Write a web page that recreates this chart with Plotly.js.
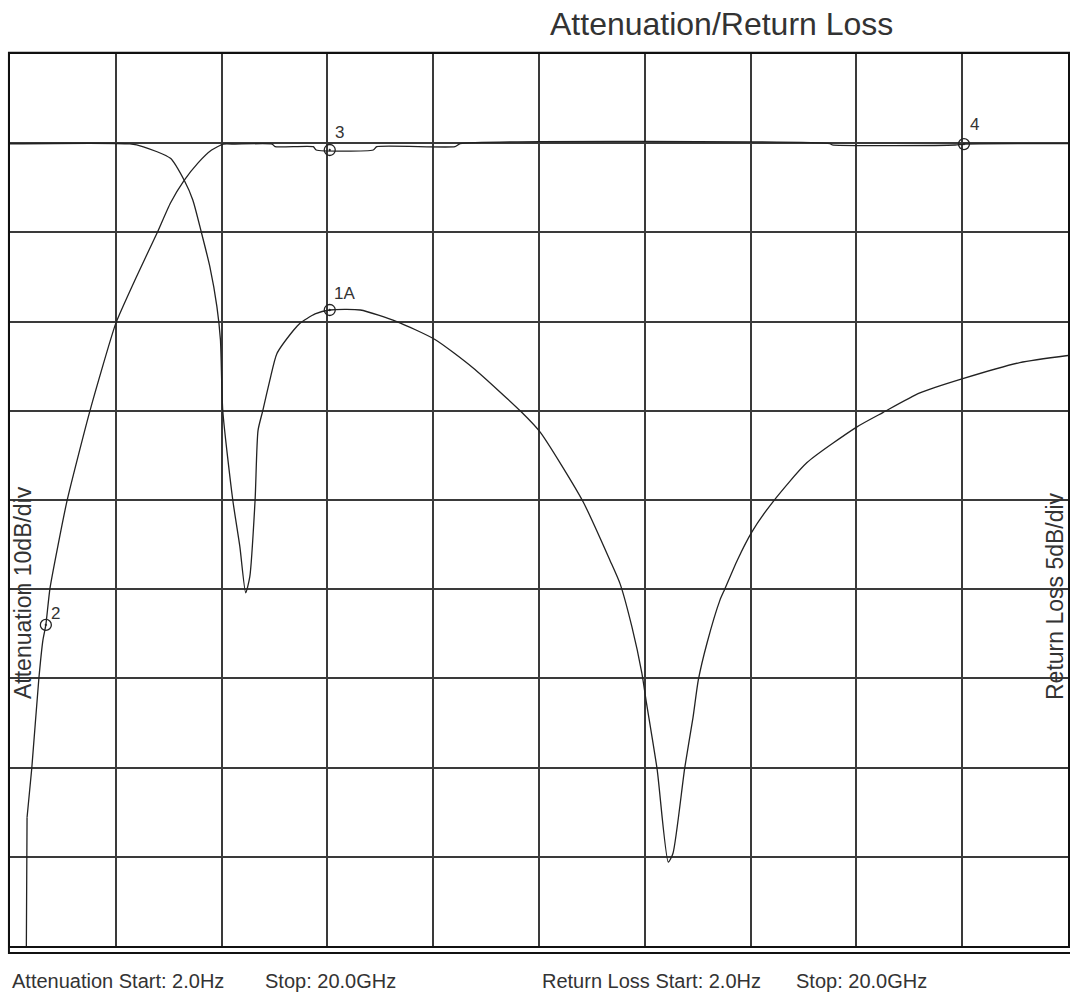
<!DOCTYPE html>
<html>
<head>
<meta charset="utf-8">
<script src="https://cdn.plot.ly/plotly-3.0.1.min.js"></script>
<style>html,body{margin:0;padding:0;background:#fff;}#chart{width:1070px;height:997px;}</style>
</head>
<body>
<div id="chart"></div>
<script>
// Frequency axis (GHz), 10 divisions of 1.8 GHz
const freqStart = 2.0;
const freqStop = 20.0;

// Attenuation trace (10 dB/div)
const attFreq = [2.0, 2.27, 2.29, 2.37, 2.49, 2.56, 2.61, 2.68, 2.97, 3.36, 3.80, 4.15, 4.50, 4.73, 4.96, 5.20, 5.43, 5.63, 5.83, 6.46, 6.51, 7.16, 7.21, 8.18, 8.24, 9.57, 9.66, 15.95, 15.99, 18.08, 18.23, 20.0];
const attDb   = [-100, -100, -75.6, -70.1, -60.1, -55.7, -54.0, -49.9, -40.1, -30.0, -20.2, -15.0, -10.1, -6.7, -4.2, -2.2, -0.76, -0.1, -0.1, -0.1, -0.39, -0.39, -0.76, -0.76, -0.39, -0.39, -0.05, -0.05, -0.2, -0.2, -0.1, -0.05];

// Return loss trace (5 dB/div)
const rlFreq = [2.0, 4.04, 4.27, 4.73, 4.97, 5.11, 5.26, 5.40, 5.52, 5.58, 5.62, 5.79, 5.91, 6.01, 6.08, 6.17, 6.22, 6.30, 6.42, 6.54, 6.82, 6.93, 7.19, 7.44, 7.96, 8.58, 9.23, 9.88, 10.71, 11.02, 11.75, 12.21, 12.38, 12.58, 12.75, 12.82, 13.01, 13.20, 13.28, 13.48, 13.62, 13.71, 13.86, 14.08, 14.16, 14.37, 14.62, 14.98, 15.56, 16.41, 16.85, 17.48, 18.21, 19.18, 20.0];
const rlDb   = [-0.03, -0.04, -0.20, -0.85, -2.12, -3.18, -5.05, -6.92, -9.16, -11.0, -15.0, -20.0, -22.6, -25.2, -24.3, -20.0, -16.1, -15.0, -13.3, -11.8, -10.5, -10.1, -9.57, -9.35, -9.35, -10.0, -11.0, -12.6, -15.1, -16.2, -20.1, -23.4, -24.7, -27.1, -29.7, -31.2, -35.1, -40.3, -39.8, -35.0, -32.2, -30.1, -28.0, -25.6, -25.0, -23.4, -21.8, -20.1, -17.9, -15.9, -15.1, -14.0, -13.2, -12.3, -11.9];

// Markers
const markerLabels = ["2", "1A", "3", "4"];
const markerFreq   = [2.61, 7.44, 7.44, 18.23];
const markerDb     = [-54.0, -9.35, -0.76, -0.1];
const markerTrace  = ["att", "rl", "att", "att"];

// Text
const titleText = "Attenuation/Return Loss";
const leftAxisText = "Attenuation 10dB/div";
const rightAxisText = "Return Loss 5dB/div";
const footerTexts = ["Attenuation Start: 2.0Hz", "Stop: 20.0GHz", "Return Loss Start: 2.0Hz", "Stop: 20.0GHz"];

const ink = '#222';
const font = 'Liberation Sans, Arial, sans-serif';

// The attenuation sweep enters the screen with a vertical jump (first 3 samples, straight),
// the rest of the sweep is drawn smoothed.
const jumpEnd = 3;
const traces = [
  {x: attFreq.slice(0, jumpEnd), y: attDb.slice(0, jumpEnd), type: 'scatter', mode: 'lines', yaxis: 'y',
   line: {color: ink, width: 1.3}, hoverinfo: 'skip'},
  {x: attFreq.slice(jumpEnd - 1), y: attDb.slice(jumpEnd - 1), type: 'scatter', mode: 'lines', yaxis: 'y',
   line: {color: ink, width: 1.3, shape: 'spline', smoothing: 0.5}, hoverinfo: 'skip'},
  {x: rlFreq, y: rlDb, type: 'scatter', mode: 'lines', yaxis: 'y2',
   line: {color: ink, width: 1.3, shape: 'spline', smoothing: 0.6}, hoverinfo: 'skip'}
];
['att', 'rl'].forEach(t => {
  const xs = [], ys = [];
  markerTrace.forEach((m, i) => { if (m === t) { xs.push(markerFreq[i]); ys.push(markerDb[i]); } });
  traces.push({x: xs, y: ys, type: 'scatter', mode: 'markers', yaxis: t === 'att' ? 'y' : 'y2',
    marker: {symbol: 'circle-open-dot', size: 11, color: ink, line: {color: ink, width: 1.3}},
    cliponaxis: false, hoverinfo: 'skip'});
});

const plotW = 1058, plotH = 892, mL = 10, mB = 51;
const px = v => (v - mL) / plotW;        // page x -> paper
const py = v => (997 - mB - v) / plotH;  // page y -> paper

const annotations = [
  {text: titleText, xref: 'paper', yref: 'paper', x: px(548), y: py(24), xanchor: 'left', yanchor: 'middle',
   showarrow: false, font: {family: font, size: 32, color: '#333'}},
  {text: leftAxisText, xref: 'paper', yref: 'paper', x: px(23), y: py(593), xanchor: 'center', yanchor: 'middle',
   textangle: -90, showarrow: false, font: {family: font, size: 23, color: '#333'}},
  {text: rightAxisText, xref: 'paper', yref: 'paper', x: px(1055), y: py(596), xanchor: 'center', yanchor: 'middle',
   textangle: -90, showarrow: false, font: {family: font, size: 23, color: '#333'}}
];
const footerX = [10, 263, 540, 794];
footerTexts.forEach((t, i) => annotations.push({
  text: t, xref: 'paper', yref: 'paper', x: px(footerX[i]), y: py(981), xanchor: 'left', yanchor: 'middle',
  showarrow: false, font: {family: font, size: 20, color: '#333'}
}));
const labelShift = {"2": [3, 11], "1A": [2, 17], "3": [3, 17], "4": [4, 20]};
markerLabels.forEach((t, i) => annotations.push({
  text: t, x: markerFreq[i], y: markerDb[i], xref: 'x', yref: markerTrace[i] === 'att' ? 'y' : 'y2',
  xanchor: 'left', yanchor: 'middle', xshift: labelShift[t][0], yshift: labelShift[t][1],
  showarrow: false, font: {family: font, size: 17, color: '#333'}
}));

const gridStyle = {showgrid: true, gridcolor: '#3a3a3a', gridwidth: 2, zeroline: false,
  showticklabels: false, ticks: '', showline: true, linecolor: '#111', linewidth: 2, mirror: true};

const layout = {
  width: 1070, height: 997,
  margin: {l: mL, r: 2, t: 54, b: mB, pad: 0},
  paper_bgcolor: '#fff', plot_bgcolor: '#fff',
  showlegend: false,
  xaxis: Object.assign({range: [freqStart, freqStop], tick0: freqStart, dtick: (freqStop - freqStart) / 10, fixedrange: true}, gridStyle),
  yaxis: Object.assign({range: [-90, 10], tick0: 0, dtick: 10, fixedrange: true}, gridStyle),
  yaxis2: {range: [-45, 5], overlaying: 'y', side: 'right', showgrid: false, zeroline: false,
    showticklabels: false, ticks: '', showline: false, fixedrange: true},
  shapes: [
    {type: 'rect', xref: 'paper', yref: 'paper', x0: -0.001, x1: 1.01, y0: -7 / plotH, y1: 1.0015,
     line: {color: '#111', width: 2}, fillcolor: 'rgba(0,0,0,0)', layer: 'above'}
  ],
  annotations: annotations
};

Plotly.newPlot('chart', traces, layout, {staticPlot: true, displayModeBar: false});
</script>
</body>
</html>
